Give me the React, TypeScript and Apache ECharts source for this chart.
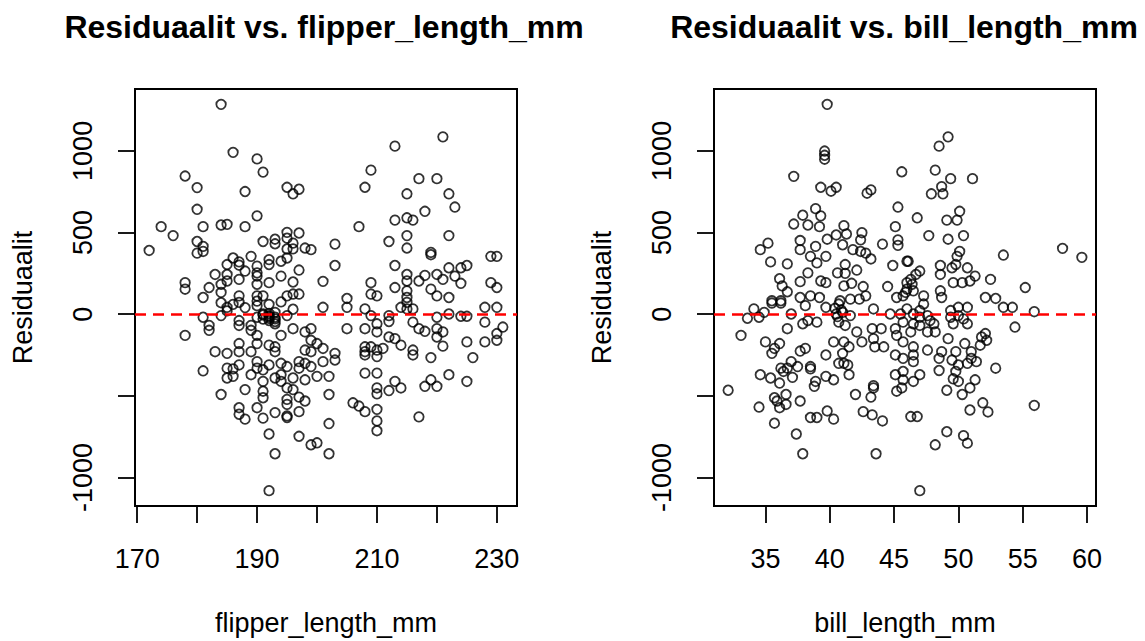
import React, { useEffect, useRef } from "react";
import * as echarts from "echarts";

// Panel 1: [flipper_length_mm, residual]
const flipperPoints: number[][] = [
  [184,1285],[186,991],[190,951],[191,870],[178,846],[180,775],[188,751],[195,777],[196,737],[197,765],
  [180,642],[190,602],[174,536],[176,481],[181,536],[184,546],[185,550],[188,536],[172,390],[180,445],
  [181,415],[180,374],[181,384],[195,501],[197,497],[191,445],[193,459],[193,431],[195,465],[196,435],
  [196,400],[195,399],[198,405],[199,395],[186,344],[187,320],[189,354],[192,334],[194,324],[195,344],
  [185,304],[187,300],[188,264],[190,294],[190,253],[192,304],[197,270],[194,233],[196,197],[183,243],
  [185,243],[185,203],[184,183],[187,213],[190,233],[190,183],[192,193],[178,193],[178,153],[182,163],
  [181,102],[184,133],[187,112],[190,112],[191,112],[195,112],[196,123],[197,123],[201,201],
  [221,1086],[213,1029],[209,882],[208,777],[217,830],[220,830],[215,737],[222,737],[223,656],[218,630],
  [213,576],[215,590],[216,576],[207,536],[212,445],[215,481],[215,405],[222,481],[203,429],[203,298],
  [219,378],[219,364],[229,354],[230,354],[213,298],[215,243],[215,203],[217,203],[218,237],[220,243],
  [221,213],[222,284],[224,284],[225,298],[223,233],[224,189],[209,193],[209,123],[210,112],[213,163],
  [215,143],[215,102],[219,153],[220,112],[222,102],[229,193],[230,163],[205,96],
  [201,42],[185,42],[187,72],[181,-19],[182,-69],[182,-99],[178,-130],[184,-9],[187,-39],[187,-69],
  [189,-69],[189,-99],[190,52],[190,-19],[191,1],[192,-9],[193,-29],[193,-59],[192,-39],[193,-19],
  [193,11],[195,-9],[196,-89],[194,-130],[190,-130],[190,-180],[187,-180],[187,-230],[183,-230],[185,-240],
  [189,-230],[192,-190],[193,-200],[193,-230],[198,-109],[199,-89],[199,-160],[200,-180],[201,-210],[198,-220],
  [199,-230],[201,-291],[181,-347],[185,-331],[186,-335],[185,-391],[186,-381],[187,-311],[189,-371],[190,-291],
  [190,-331],[191,-341],[191,-412],[192,-311],[193,-391],[194,-301],[195,-321],[194,-371],[194,-412],[196,-391],
  [195,-452],[196,-462],[197,-291],[197,-331],[198,-301],[198,-402],[199,-321],[200,-381],[202,-381],[188,-462],
  [184,-492],[191,-472],[191,-512],[195,-522],[195,-553],[197,-508],[198,-532],[202,-492],[187,-573],[187,-613],
  [188,-643],[190,-573],[191,-637],[193,-603],[195,-623],[195,-633],[197,-597],[192,-734],[197,-748],[199,-800],
  [200,-788],[202,-670],[202,-855],[193,-855],[192,-1081],
  [191,-5],[192,-15],[192,5],[193,-45],[192,-25],[191,-30],[184,70],[186,60],[188,40],[190,80],
  [192,60],[194,75],[196,30],[185,20],
  [205,42],[205,-89],[208,32],[208,-89],[209,-9],[210,-59],[210,-109],[212,-9],[212,-45],[212,-140],
  [213,-150],[214,-190],[214,42],[215,72],[215,32],[216,32],[216,-49],[217,-89],[218,-105],[216,-220],
  [216,-250],[220,-19],[220,-89],[220,-140],[221,-109],[221,-196],[222,1],[224,-13],[225,-13],[228,42],
  [228,-49],[230,42],[231,-79],[230,-119],[230,-160],[228,-170],[225,-170],[226,-266],[219,-266],[222,-371],
  [225,-412],[219,-402],[218,-442],[220,-442],[213,-412],[214,-452],[212,-468],[210,-452],[210,-488],[208,-361],
  [210,-361],[208,-200],[208,-230],[208,-250],[209,-200],[210,-220],[211,-210],[210,-260],[203,-240],[203,-281],
  [206,-543],[207,-563],[208,-597],[210,-583],[210,-654],[210,-714],[217,-629]
];

// Panel 2: [bill_length_mm, residual]
const billPoints: number[][] = [
  [39.8,1285],[39.6,999],[39.6,973],[39.6,949],[37.2,844],[45.6,872],[39.3,777],[40.1,753],[40.5,777],[42.9,741],
  [43.2,761],[45.3,656],[38.9,646],[39.3,602],[37.9,606],[37.2,552],[38.3,546],[39.2,536],[41.1,542],[45.1,536],
  [42.5,499],[35.2,435],[34.6,395],[35.4,320],[36.7,308],[37.7,451],[37.7,395],[38.9,415],[39.7,354],[39.8,459],
  [40.5,485],[41.3,491],[41.0,425],[41.8,395],[42.4,455],[42.4,384],[42.8,374],[43.2,338],[44.1,429],[45.3,455],
  [45.3,421],[44.9,298],[46.0,324],[38.5,354],[39.0,314],[41.2,304],[42.1,270],[40.6,253],[41.2,250],[38.3,253],
  [37.7,199],[39.3,203],[39.7,193],[41.1,173],[41.7,189],[42.6,169],[42.8,112],[44.5,169],[36.1,217],[36.3,173],
  [36.7,137],[35.5,82],[36.2,82],[37.7,102],[38.5,112],[39.2,102],[40.8,82],[41.6,92],[42.3,92],[45.2,102],
  [46.0,193],[45.9,133],
  [49.2,1086],[48.5,1029],[48.2,882],[49.4,830],[51.1,830],[48.7,781],[47.9,737],[48.8,737],[50.1,630],[49.9,576],
  [49.1,576],[46.8,590],[47.7,481],[49.2,459],[50.4,481],[53.5,362],[58.1,403],[59.6,348],[50.1,384],[49.9,354],
  [46.1,324],[48.6,298],[48.6,243],[49.5,284],[49.8,304],[50.7,284],[51.3,233],[50.9,203],[52.5,213],[49.6,193],
  [50.3,193],[55.2,163],[48.6,143],[48.7,102],[47.3,112],[52.1,102],[52.9,96],[46.3,213],[46.7,243],[47.0,264],
  [46.4,183],[46.0,153],[46.5,143],[45.7,112],
  [34.1,32],[33.6,-25],[34.5,-19],[33.1,-130],[34.9,11],[35.5,68],[36.2,68],[37.0,1],[36.7,-89],[37.9,-59],
  [38.3,-39],[39.0,-49],[38.1,52],[39.7,42],[40.7,62],[40.5,1],[41.0,11],[40.7,-49],[41.6,-9],[41.2,-69],
  [42.1,-109],[43.4,32],[43.3,-89],[44.0,-89],[44.7,1],[45.5,1],[45.1,-89],[43.4,-150],[43.5,-200],[44.2,-200],
  [45.2,-130],[45.1,-250],[45.7,-170],[35.0,-170],[36.1,-180],[35.5,-240],[35.7,-210],[38.1,-210],[37.7,-226],[39.7,-250],
  [40.3,-170],[41.1,-170],[41.5,-200],[42.5,-170],[41.0,-240],[40.7,-301],[41.1,-301],[41.4,-311],[41.5,-371],[38.5,-321],
  [38.5,-335],[37.0,-291],[37.5,-321],[36.2,-331],[36.7,-331],[36.4,-351],[37.1,-387],[34.6,-371],[35.4,-391],[36.1,-422],
  [38.8,-442],[38.9,-412],[39.7,-381],[40.3,-402],[43.4,-438],[43.4,-452],[42.0,-492],[43.2,-508],[45.1,-371],[45.2,-472],
  [45.6,-452],[45.7,-351],[45.7,-402],[32.1,-466],[35.7,-512],[35.9,-532],[36.6,-492],[36.6,-553],[36.1,-573],[34.5,-569],
  [37.7,-532],[38.5,-633],[39.0,-633],[39.8,-593],[40.3,-643],[42.6,-597],[43.3,-617],[44.1,-654],[35.7,-668],[37.4,-734],
  [37.9,-855],[43.6,-855],[40.6,-15],[40.9,25],[40.4,35],
  [54.4,-79],[55.9,15],[54.2,42],[53.5,42],[52.9,-331],[55.9,-559],[51.9,-543],[52.3,-599],[50.9,-587],[51.3,-402],
  [50.9,-452],[50.3,-492],[49.1,-466],[49.6,-396],[50.0,-412],[48.5,-345],[47.0,-371],[46.5,-412],[46.3,-627],[46.8,-627],
  [49.1,-720],[48.2,-800],[50.4,-744],[50.7,-790],[47.0,-1081],[52.1,-119],[52.2,-160],[51.8,-140],[51.7,-190],[50.5,-180],
  [51.0,-230],[51.0,-271],[51.4,-291],[50.7,-301],[50.0,-311],[49.8,-351],[49.5,-281],[48.7,-230],[49.8,-230],[48.5,-271],
  [49.2,-150],[47.6,-220],[46.5,-200],[46.5,-250],[46.5,-291],[45.7,-271],[48.2,-109],[47.6,-109],[46.3,-109],[45.7,-49],
  [46.5,-59],[47.0,-69],[47.0,-19],[47.8,-39],[48.1,-59],[49.4,-19],[49.6,-59],[50.0,42],[50.7,42],[50.0,-9],
  [50.4,-29],[50.7,-59],[49.4,22],[47.0,22],[47.6,-9],[46.5,1],[46.0,32],[47.3,62]
];

const yTicks = [-1000, -500, 0, 500, 1000];
const yLabels = [-1000, 0, 500, 1000];
const flipperTicks = [170, 180, 190, 200, 210, 220, 230];
const flipperLabels = [170, 190, 210, 230];
const billTicks = [35, 40, 45, 50, 55, 60];
const billLabels = [35, 40, 45, 50, 55, 60];
const titles = ["Residuaalit vs. flipper_length_mm", "Residuaalit vs. bill_length_mm"];
const xNames = ["flipper_length_mm", "bill_length_mm"];
const yName = "Residuaalit";

export default function App() {
  const ref = useRef<HTMLDivElement>(null);
  useEffect(() => {
    if (!ref.current) return;
    const chart = echarts.init(ref.current, null, { renderer: "svg" });
    const font = '"Liberation Sans", Arial, Helvetica, sans-serif';
    const grids = [
      { left: 135, top: 89, width: 382, height: 422 },
      { left: 714, top: 89, width: 382, height: 422 },
    ];
    const xRanges = [
      [169.64, 233.36],
      [31.0, 60.7],
    ];
    const xTickSets = [flipperTicks, billTicks];
    const xLabelSets = [flipperLabels, billLabels];
    const txt = { color: "#000", fontFamily: font, fontSize: 27 };
    const tickStyle = { color: "#000", width: 1.8 };

    const option: any = {
      animation: false,
      backgroundColor: "#fff",
      grid: grids.map((g) => ({
        ...g,
        show: true,
        borderColor: "#000",
        borderWidth: 2,
        backgroundColor: "transparent",
        containLabel: false,
      })),
      xAxis: [0, 1].map((i) => ({
        type: "value",
        gridIndex: i,
        min: xRanges[i][0],
        max: xRanges[i][1],
        axisLine: { show: false, onZero: false },
        splitLine: { show: false },
        axisTick: { show: true, length: 17, customValues: xTickSets[i], lineStyle: tickStyle },
        axisLabel: {
          ...txt,
          margin: 39,
          customValues: xLabelSets[i],
          formatter: (v: number) => String(v),
        },
        name: xNames[i],
        nameLocation: "middle",
        nameGap: 103,
        nameTextStyle: { ...txt },
      })),
      yAxis: [0, 1].map((i) => ({
        type: "value",
        gridIndex: i,
        min: -1175,
        max: 1379,
        axisLine: { show: false, onZero: false },
        splitLine: { show: false },
        axisTick: { show: true, length: 17, customValues: yTicks, lineStyle: tickStyle },
        axisLabel: {
          ...txt,
          rotate: 90,
          margin: 39,
          customValues: yLabels,
          formatter: (v: number) => String(v),
        },
        name: yName,
        nameLocation: "middle",
        nameRotate: 90,
        nameGap: 99,
        nameTextStyle: { ...txt },
      })),
      graphic: titles.map((t, i) => ({
        type: "text",
        x: i === 0 ? 324 : 904,
        y: 27,
        style: {
          text: t,
          fill: "#000",
          font: `bold 32px ${font}`,
          textAlign: "center",
          textVerticalAlign: "middle",
          align: "center",
          verticalAlign: "middle",
        },
      })),
      series: [flipperPoints, billPoints].map((pts, i) => ({
        type: "scatter",
        xAxisIndex: i,
        yAxisIndex: i,
        data: pts,
        symbol: "circle",
        symbolSize: 9.5,
        silent: true,
        itemStyle: { color: "transparent", borderColor: "#000", borderWidth: 1.8 },
        markLine: {
          silent: true,
          symbol: ["none", "none"],
          label: { show: false },
          lineStyle: { color: "#ff0000", type: [11, 7], width: 2.5 },
          data: [{ yAxis: 0 }],
        },
      })),
    };
    chart.setOption(option);
    return () => chart.dispose();
  }, []);
  return (
    <div
      ref={ref}
      style={{ position: "fixed", left: 0, top: 0, width: 1145, height: 641, background: "#fff" }}
    />
  );
}
